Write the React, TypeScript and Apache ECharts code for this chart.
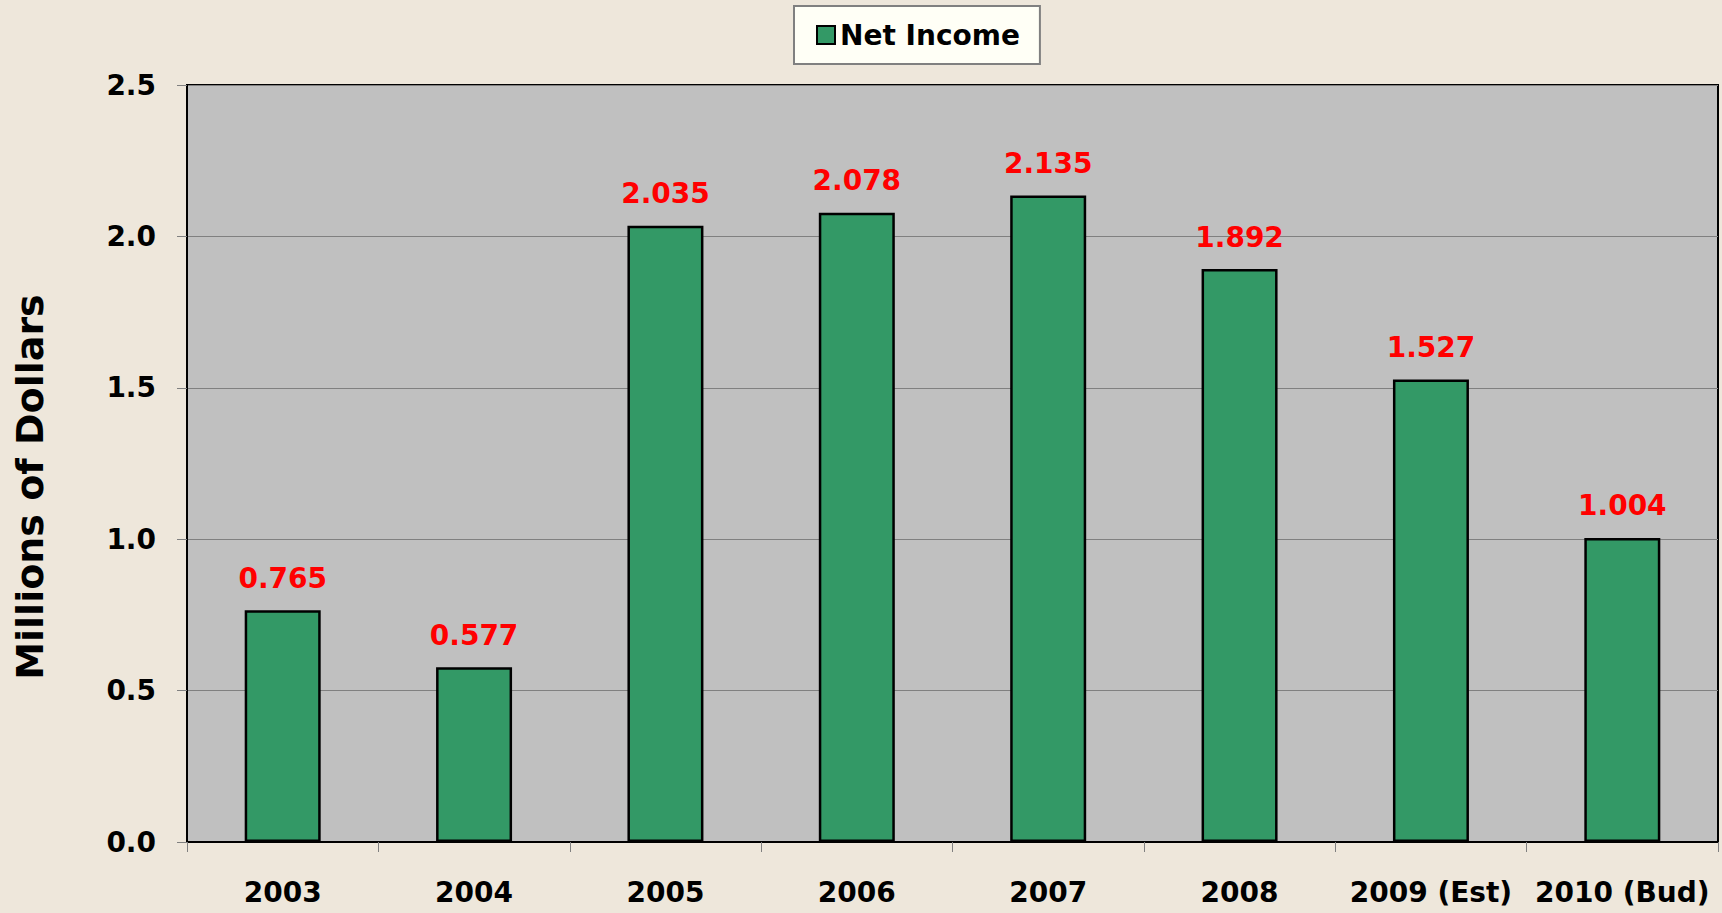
import React, { useEffect, useRef } from "react";
import * as echarts from "echarts";

const categories = ["2003", "2004", "2005", "2006", "2007", "2008", "2009 (Est)", "2010 (Bud)"];
const netIncome = [0.765, 0.577, 2.035, 2.078, 2.135, 1.892, 1.527, 1.004];
const seriesName = "Net Income";
const yAxisTitle = "Millions of Dollars";

const FONT = "'DejaVu Sans', Verdana, sans-serif";

export default function App() {
  const ref = useRef<HTMLDivElement>(null);
  useEffect(() => {
    if (!ref.current) return;
    const chart = echarts.init(ref.current, null, { renderer: "svg" });
    chart.setOption({
      animation: false,
      backgroundColor: "#EEE7DB",
      legend: {
        data: [{ name: seriesName, icon: "rect" }],
        left: 794,
        top: 6,
        backgroundColor: "#FFFFF6",
        borderColor: "#808080",
        borderWidth: 2,
        padding: [14, 20, 14, 22],
        itemWidth: 18,
        itemHeight: 18,
        itemStyle: { borderColor: "#000", borderWidth: 2 },
        textStyle: { fontFamily: FONT, fontWeight: "bold", fontSize: 28, color: "#000", lineHeight: 30 },
      },
      graphic: [
        {
          type: "text",
          x: 30,
          y: 487,
          rotation: Math.PI / 2,
          style: {
            text: yAxisTitle,
            fill: "#000",
            font: `bold 38px ${FONT}`,
            textAlign: "center",
            textVerticalAlign: "middle",
          },
        },
      ],
      grid: {
        left: 187,
        right: 4,
        top: 85,
        bottom: 71,
        outerBoundsMode: "none",
        containLabel: false,
        show: true,
        backgroundColor: "#C0C0C0",
        borderColor: "#000",
        borderWidth: 2,
      },
      xAxis: {
        type: "category",
        data: categories,
        axisLine: { show: true, lineStyle: { color: "#000", width: 2 } },
        axisTick: { show: true, length: 10, alignWithLabel: false, lineStyle: { color: "#808080", width: 1 } },
        axisLabel: {
          interval: 0,
          margin: 36,
          color: "#000",
          fontFamily: FONT,
          fontWeight: "bold",
          fontSize: 28,
        },
      },
      yAxis: {
        type: "value",
        min: 0,
        max: 2.5,
        interval: 0.5,
        axisLine: { show: true, lineStyle: { color: "#000", width: 2 } },
        axisTick: { show: true, length: 10, lineStyle: { color: "#808080", width: 1 } },
        splitLine: { show: true, lineStyle: { color: "#808080", width: 1 } },
        axisLabel: {
          margin: 31,
          color: "#000",
          fontFamily: FONT,
          fontWeight: "bold",
          fontSize: 28,
          formatter: (v: number) => v.toFixed(1),
        },
      },
      series: [
        {
          name: seriesName,
          type: "bar",
          data: netIncome,
          barWidth: 76,
          itemStyle: { color: "#339966", borderColor: "#000", borderWidth: 2.5 },
          label: {
            show: true,
            position: "top",
            distance: 18,
            color: "#FF0000",
            fontFamily: FONT,
            fontWeight: "bold",
            fontSize: 28,
            formatter: (p: any) => Number(p.value).toFixed(3),
          },
        },
      ],
    });
    return () => chart.dispose();
  }, []);
  return (
    <div
      ref={ref}
      style={{ position: "absolute", left: 0, top: 0, width: 1722, height: 913 }}
    />
  );
}
